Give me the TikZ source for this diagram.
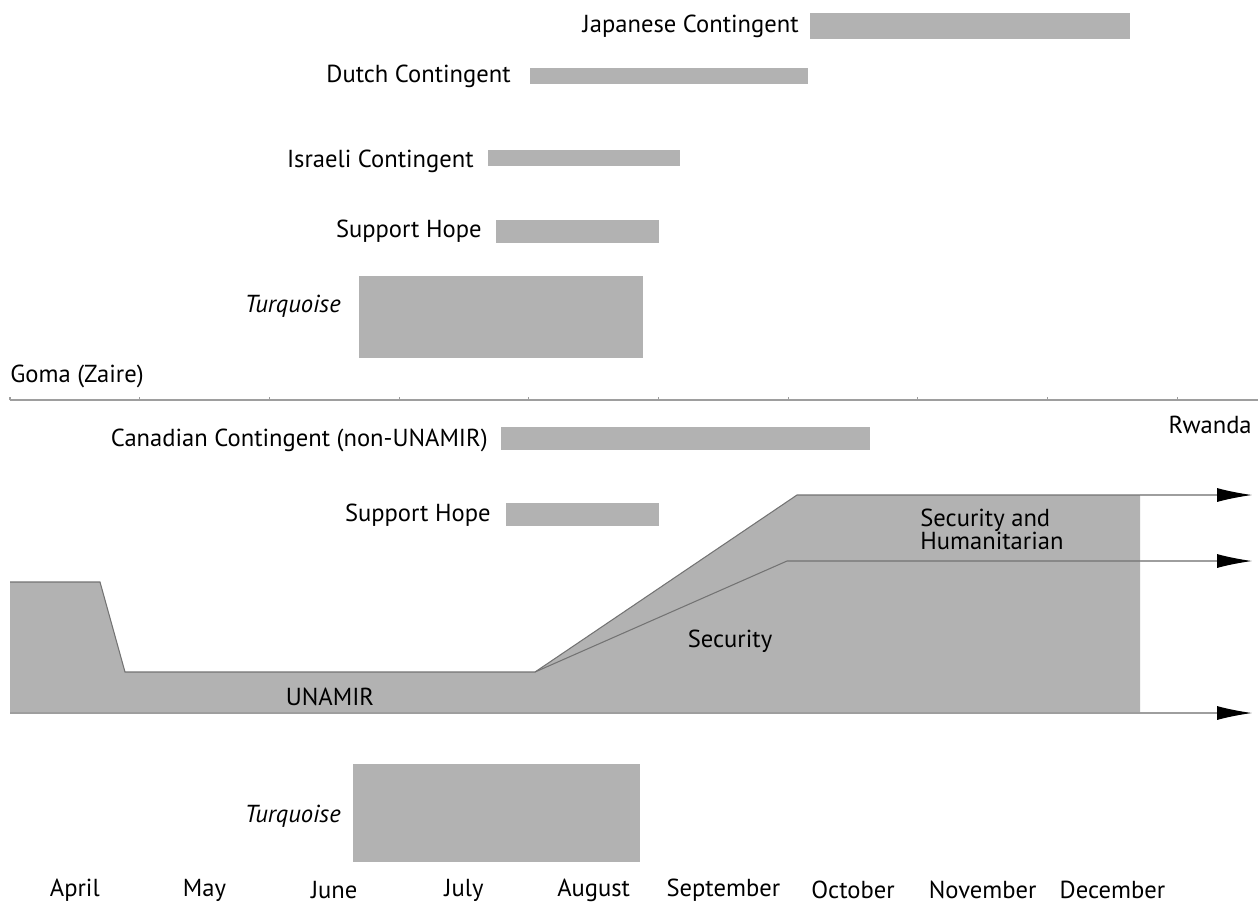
\documentclass[tikz,border=0pt]{standalone}
\usepackage{fontspec}
\setmainfont{PT Sans}
\usetikzlibrary{arrows.meta}

\definecolor{bargray}{gray}{0.70}
\definecolor{edgegray}{gray}{0.45}
\definecolor{linegray}{gray}{0.62}

\tikzset{
  bar/.style={fill=bargray},
  lbl/.style={anchor=east, inner sep=0pt, font=\fontsize{14}{16}\selectfont},
  txt/.style={inner sep=0pt, font=\fontsize{14}{16}\selectfont},
  edge/.style={draw=edgegray, line width=0.6pt},
  flow/.style={draw=linegray, line width=0.6pt, -{Latex[length=7mm, width=2.8mm, color=black]}},
}

\begin{document}
\begin{tikzpicture}[x=0.02cm, y=-0.02cm]
  \useasboundingbox (0,0) rectangle (1258,904);

  % Goma (Zaire) bars
  \fill[bar] (810,13) rectangle (1130,39);
  \node[lbl] (japanese) at (799,26) {Japanese Contingent};

  \fill[bar] (530,68) rectangle (808,84);
  \node[lbl] (dutch) at (511,76) {Dutch Contingent};

  \fill[bar] (488,150) rectangle (680,166);
  \node[lbl] (israeli) at (474,161) {Israeli Contingent};

  \fill[bar] (496,220) rectangle (659,243);
  \node[lbl] (hopeZ) at (482,231) {Support Hope};

  \fill[bar] (359,276) rectangle (643,358);
  \node[lbl] (turqZ) at (341,306) {\itshape Turquoise};

  \node[txt, anchor=west] (goma) at (10,376) {Goma (Zaire)};

  % Separator with month ticks
  \draw[linegray, line width=0.8pt] (10,400) -- (1258,400);
  \foreach \i in {0,...,9}
    \draw[linegray, line width=0.6pt] ({10+129.7*\i},400) -- ++(0,-3);

  \node[txt, anchor=east] (rwanda) at (1252,425) {Rwanda};

  % Rwanda bars
  \fill[bar] (501,427) rectangle (870,450);
  \node[lbl] (canadian) at (488,440) {Canadian Contingent (non-UNAMIR)};

  \fill[bar] (506,503) rectangle (659,526);
  \node[lbl] (hopeR) at (491,515) {Support Hope};

  % UNAMIR area
  \fill[bar] (10,582) -- (100,582) -- (125,672) -- (535,672) -- (797,495)
    -- (1140,495) -- (1140,713) -- (10,713) -- cycle;
  \draw[edge] (10,582) -- (100,582) -- (125,672) -- (535,672) -- (797,495) -- (1140,495);
  \draw[edge] (535,672) -- (787,561) -- (1140,561);

  \coordinate (topA) at (1140,495);
  \coordinate (topB) at (1252,495);
  \coordinate (midA) at (1140,561);
  \coordinate (midB) at (1252,561);
  \coordinate (botA) at (10,713);
  \coordinate (botB) at (1252,713);
  \draw[flow] (topA) -- (topB);
  \draw[flow] (midA) -- (midB);
  \draw[flow] (botA) -- (botB);

  \node[txt] (unamir) at (330,697) {UNAMIR};
  \node[txt] (security) at (730,641) {Security};
  \node[txt, anchor=west, align=left, font=\fontsize{14}{13}\selectfont]
    (sechum) at (920,529) {Security and\\Humanitarian};

  % Turquoise (Rwanda)
  \fill[bar] (353,764) rectangle (640,862);
  \node[lbl] (turqR) at (341,816) {\itshape Turquoise};

  % Months
  \foreach \m [count=\i] in {April,May,June,July,August,September,October,November,December}
    \node[txt] (month\i) at ({10+129.7*(\i-0.5)},890) {\m};

\end{tikzpicture}
\end{document}
